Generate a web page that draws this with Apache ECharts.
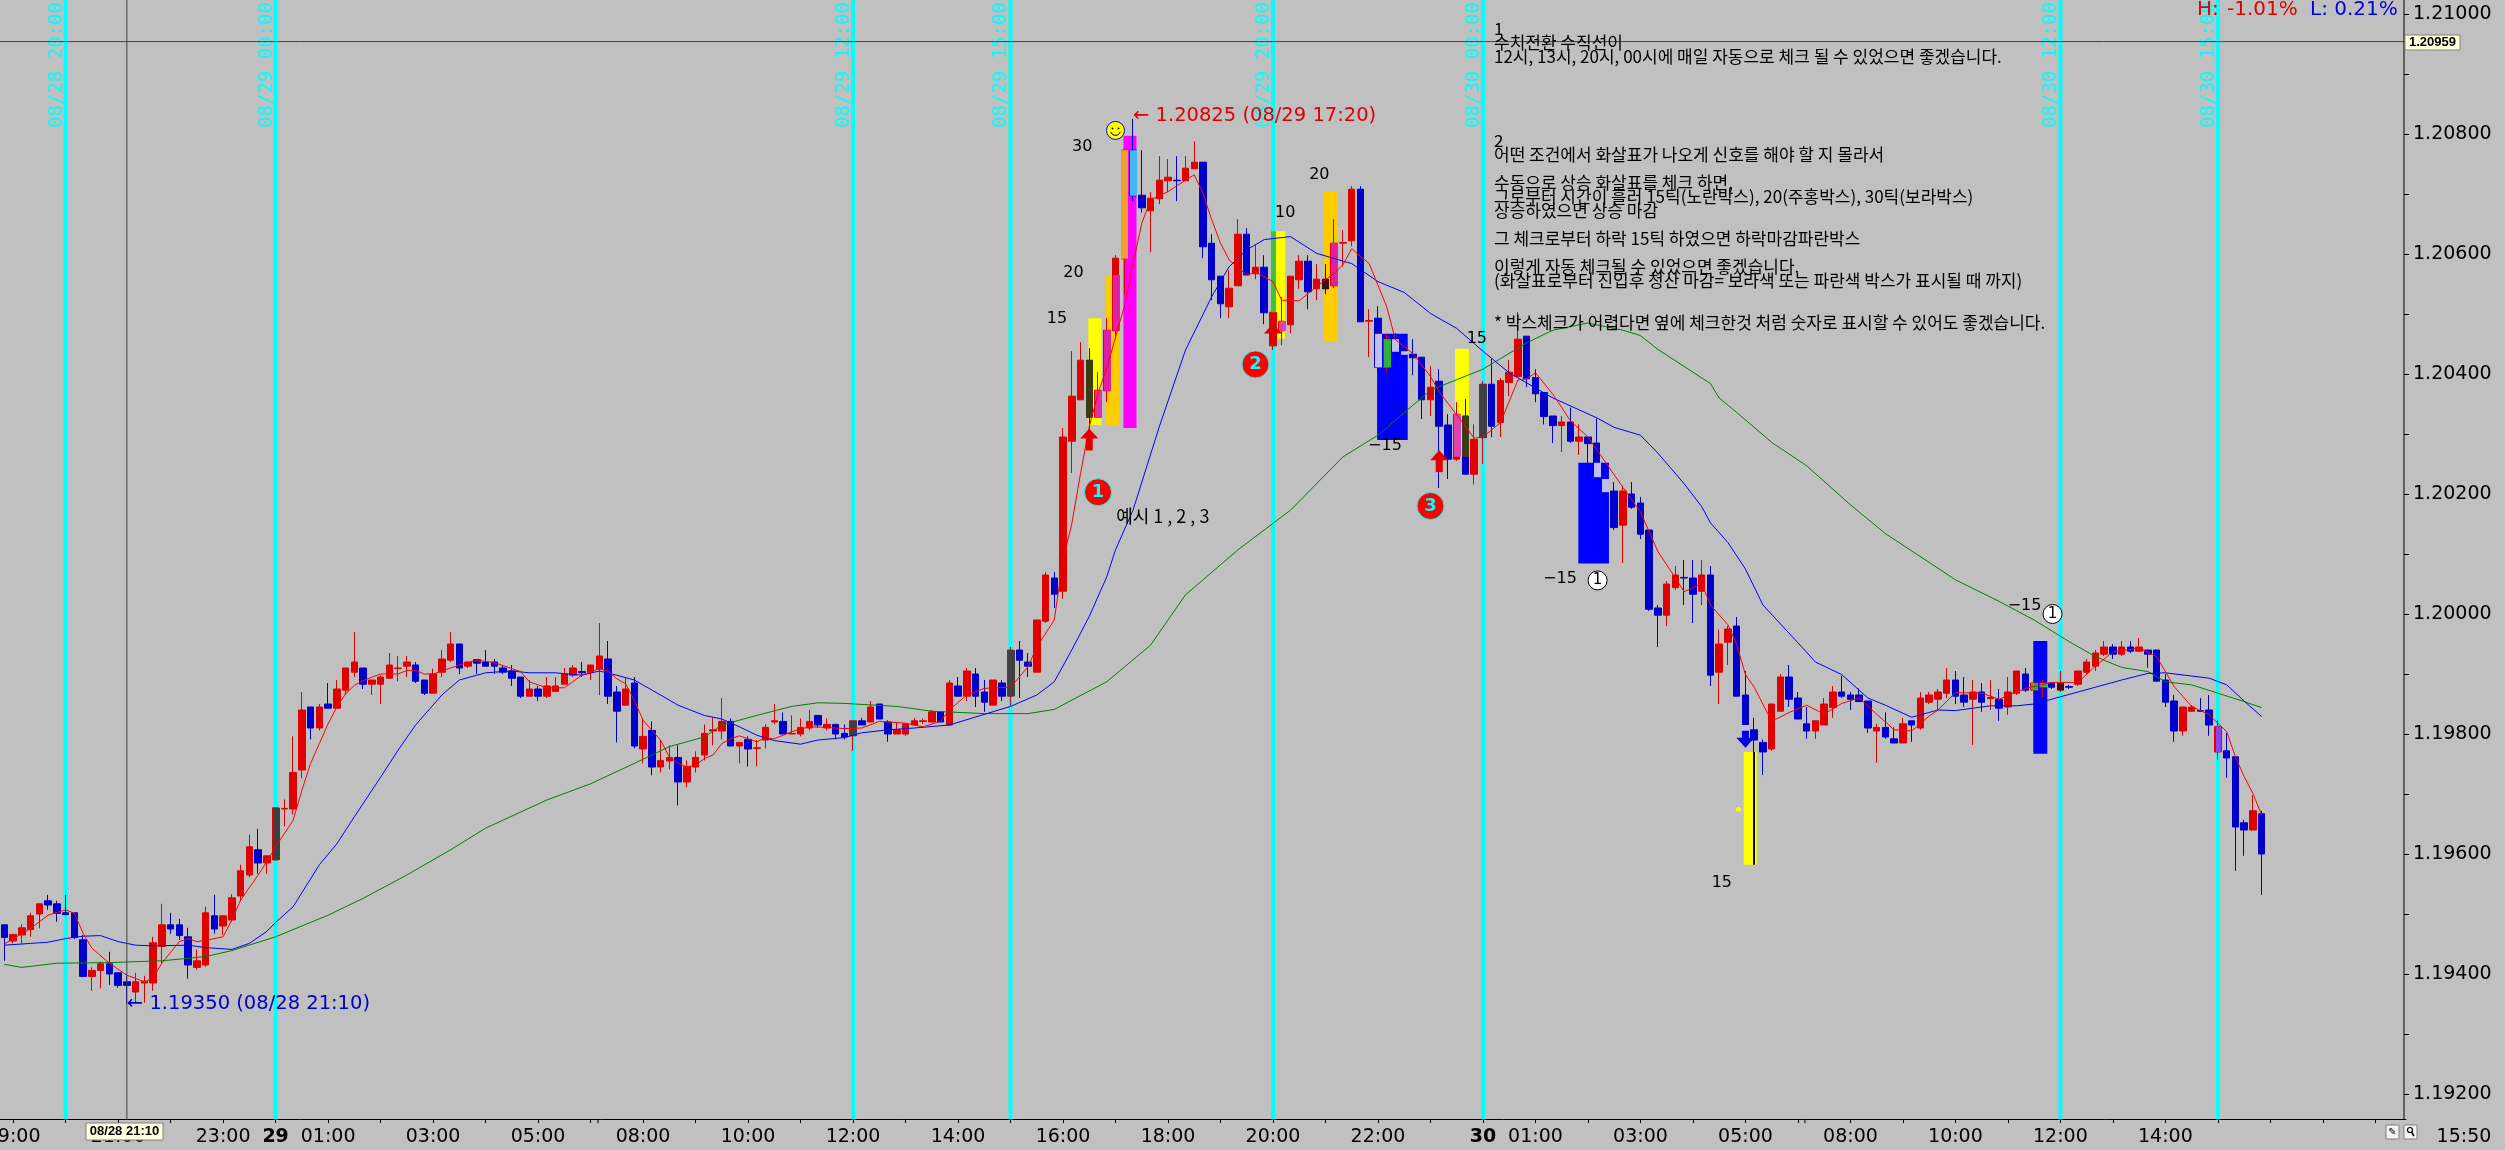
<!DOCTYPE html>
<html><head><meta charset="utf-8">
<script src="https://cdn.jsdelivr.net/npm/echarts@6/dist/echarts.min.js"></script>
<style>html,body{margin:0;padding:0;background:#c0c0c0;overflow:hidden}#c{width:2505px;height:1150px}</style>
</head><body><div id="c"></div>
<script>
// open, close, low, high — 10 minute bars
const candlesAug28 = [
[1.19482,1.19461,1.19422,1.19482],[1.19455,1.19466,1.19451,1.19466],[1.19465,1.19477,1.19451,1.19483],[1.19474,1.19497,1.19462,1.19502],
[1.19500,1.19517,1.19476,1.19517],[1.19522,1.19515,1.19507,1.19532],[1.19517,1.19501,1.19487,1.19522],[1.19502,1.19499,1.19498,1.19532],
[1.19502,1.19461,1.19458,1.19502],[1.19457,1.19396,1.19396,1.19465],[1.19396,1.19406,1.19372,1.19411],[1.19406,1.19417,1.19376,1.19421],
[1.19417,1.19400,1.19382,1.19437],[1.19402,1.19381,1.19377,1.19402],[1.19387,1.19381,1.19350,1.19396],[1.19370,1.19387,1.19352,1.19402],
[1.19385,1.19388,1.19352,1.19397],[1.19385,1.19452,1.19372,1.19462],[1.19446,1.19482,1.19418,1.19517],[1.19482,1.19475,1.19467,1.19502],
[1.19482,1.19464,1.19457,1.19492],[1.19462,1.19415,1.19392,1.19477],[1.19411,1.19422,1.19407,1.19441],[1.19415,1.19502,1.19412,1.19512],
[1.19497,1.19475,1.19467,1.19532],[1.19480,1.19497,1.19465,1.19498],[1.19490,1.19527,1.19487,1.19533],[1.19530,1.19572,1.19522,1.19582],
[1.19565,1.19612,1.19561,1.19632],[1.19607,1.19585,1.19567,1.19642],[1.19585,1.19597,1.19567,1.19597]
];
const candlesAug29 = [
[1.19590,1.19677,1.19590,1.19677],[1.19675,1.19676,1.19646,1.19691],[1.19675,1.19736,1.19666,1.19796],[1.19740,1.19840,1.19726,1.19870],
[1.19845,1.19810,1.19791,1.19845],[1.19810,1.19845,1.19806,1.19850],[1.19850,1.19843,1.19843,1.19885],[1.19843,1.19875,1.19843,1.19890],
[1.19873,1.19910,1.19865,1.19910],[1.19903,1.19920,1.19895,1.19970],[1.19910,1.19883,1.19875,1.19910],[1.19883,1.19890,1.19865,1.19890],
[1.19883,1.19895,1.19850,1.19898],[1.19893,1.19915,1.19893,1.19935],[1.19909,1.19910,1.19888,1.19930],[1.19913,1.19920,1.19895,1.19930],
[1.19915,1.19888,1.19885,1.19920],[1.19890,1.19868,1.19865,1.19890],[1.19868,1.19900,1.19868,1.19909],[1.19903,1.19925,1.19895,1.19940],
[1.19923,1.19950,1.19920,1.19970],[1.19950,1.19910,1.19900,1.19950],[1.19913,1.19920,1.19910,1.19921],[1.19924,1.19918,1.19900,1.19924],
[1.19920,1.19913,1.19913,1.19940],[1.19920,1.19913,1.19900,1.19925],[1.19910,1.19903,1.19900,1.19915],[1.19905,1.19893,1.19880,1.19915],
[1.19895,1.19863,1.19860,1.19895],[1.19863,1.19875,1.19863,1.19890],[1.19875,1.19863,1.19855,1.19880],[1.19863,1.19880,1.19860,1.19895],
[1.19871,1.19880,1.19871,1.19895],[1.19883,1.19900,1.19883,1.19910],[1.19898,1.19910,1.19895,1.19915],[1.19904,1.19902,1.19895,1.19920],
[1.19903,1.19915,1.19890,1.19915],[1.19908,1.19930,1.19865,1.19985],[1.19925,1.19863,1.19850,1.19955],[1.19870,1.19838,1.19786,1.19880],
[1.19848,1.19875,1.19848,1.19893],[1.19885,1.19780,1.19776,1.19895],[1.19775,1.19796,1.19751,1.19826],[1.19806,1.19745,1.19731,1.19821],
[1.19745,1.19756,1.19736,1.19790],[1.19755,1.19761,1.19741,1.19781],[1.19761,1.19720,1.19681,1.19781],[1.19720,1.19746,1.19711,1.19756],
[1.19745,1.19761,1.19736,1.19771],[1.19765,1.19801,1.19756,1.19816],[1.19805,1.19807,1.19781,1.19828],[1.19805,1.19821,1.19791,1.19860],
[1.19821,1.19780,1.19780,1.19826],[1.19780,1.19786,1.19751,1.19786],[1.19791,1.19775,1.19746,1.19796],[1.19776,1.19777,1.19746,1.19790],
[1.19790,1.19811,1.19776,1.19816],[1.19820,1.19822,1.19816,1.19850],[1.19821,1.19800,1.19800,1.19836],[1.19800,1.19801,1.19800,1.19831],
[1.19800,1.19811,1.19796,1.19826],[1.19810,1.19821,1.19806,1.19840],[1.19831,1.19815,1.19811,1.19831],[1.19810,1.19816,1.19806,1.19826],
[1.19816,1.19800,1.19791,1.19816],[1.19801,1.19795,1.19791,1.19816],[1.19797,1.19822,1.19772,1.19822],[1.19822,1.19815,1.19815,1.19827],
[1.19820,1.19845,1.19820,1.19855],[1.19850,1.19825,1.19825,1.19850],[1.19820,1.19800,1.19787,1.19823],[1.19800,1.19807,1.19800,1.19820],
[1.19800,1.19817,1.19797,1.19818],[1.19815,1.19822,1.19815,1.19827],[1.19821,1.19822,1.19817,1.19826],[1.19820,1.19837,1.19820,1.19840],
[1.19837,1.19820,1.19820,1.19837],[1.19815,1.19885,1.19815,1.19890],[1.19880,1.19863,1.19863,1.19895],[1.19863,1.19905,1.19855,1.19910],
[1.19900,1.19863,1.19845,1.19910],[1.19870,1.19853,1.19837,1.19890],[1.19848,1.19890,1.19848,1.19890],[1.19885,1.19863,1.19855,1.19890],
[1.19863,1.19940,1.19847,1.19945],[1.19940,1.19923,1.19860,1.19955],[1.19920,1.19913,1.19895,1.19935],[1.19903,1.19990,1.19903,1.19990],
[1.19988,1.20065,1.19985,1.20070],[1.20060,1.20033,1.20010,1.20070],[1.20038,1.20295,1.20025,1.20310],[1.20288,1.20363,1.20235,1.20438],
[1.20357,1.20423,1.20357,1.20453],[1.20423,1.20328,1.20309,1.20443],[1.20328,1.20373,1.20328,1.20403],[1.20372,1.20473,1.20353,1.20493],
[1.20472,1.20593,1.20458,1.20598],[1.20592,1.20773,1.20533,1.20773],[1.20773,1.20697,1.20688,1.20825],[1.20698,1.20677,1.20669,1.20773],
[1.20672,1.20693,1.20603,1.20703],[1.20692,1.20723,1.20683,1.20763],[1.20722,1.20728,1.20704,1.20758],[1.20723,1.20722,1.20688,1.20763],
[1.20722,1.20743,1.20722,1.20763],[1.20742,1.20753,1.20742,1.20788],[1.20753,1.20612,1.20593,1.20753],[1.20618,1.20557,1.20523,1.20633],
[1.20563,1.20517,1.20493,1.20563],[1.20512,1.20543,1.20493,1.20573],[1.20547,1.20633,1.20547,1.20658],[1.20633,1.20565,1.20565,1.20643],
[1.20567,1.20578,1.20558,1.20615],[1.20578,1.20502,1.20483,1.20598],[1.20447,1.20503,1.20440,1.20507],[1.20472,1.20488,1.20448,1.20528],
[1.20482,1.20563,1.20468,1.20563],[1.20557,1.20588,1.20542,1.20598],[1.20588,1.20537,1.20508,1.20598],[1.20542,1.20558,1.20523,1.20583],
[1.20558,1.20542,1.20533,1.20583],[1.20547,1.20618,1.20543,1.20658],[1.20618,1.20619,1.20579,1.20640],[1.20622,1.20708,1.20613,1.20713],
[1.20708,1.20487,1.20487,1.20713],[1.20488,1.20489,1.20428,1.20508],[1.20493,1.20411,1.20403,1.20513],[1.20411,1.20458,1.20403,1.20467],
[1.20458,1.20437,1.20388,1.20468],[1.20438,1.20432,1.20408,1.20458],[1.20433,1.20427,1.20398,1.20458],[1.20428,1.20357,1.20325,1.20428],
[1.20357,1.20378,1.20330,1.20413],[1.20388,1.20313,1.20210,1.20408],[1.20315,1.20258,1.20225,1.20333],[1.20258,1.20333,1.20255,1.20353],
[1.20330,1.20233,1.20233,1.20358],[1.20233,1.20291,1.20216,1.20316]
];
const candlesAug30 = [
[1.20294,1.20383,1.20250,1.20388],[1.20383,1.20313,1.20295,1.20425],[1.20319,1.20389,1.20295,1.20393],[1.20386,1.20403,1.20363,1.20423],
[1.20396,1.20458,1.20396,1.20503],[1.20463,1.20392,1.20378,1.20463],[1.20394,1.20367,1.20353,1.20408],[1.20369,1.20329,1.20316,1.20369],
[1.20330,1.20314,1.20285,1.20330],[1.20314,1.20320,1.20270,1.20330],[1.20320,1.20288,1.20285,1.20344],[1.20288,1.20295,1.20265,1.20316],
[1.20295,1.20284,1.20225,1.20295],[1.20285,1.20228,1.20220,1.20326],[1.20225,1.20203,1.20165,1.20240],[1.20205,1.20144,1.20140,1.20220],
[1.20148,1.20205,1.20085,1.20214],[1.20200,1.20178,1.20175,1.20220],[1.20185,1.20133,1.20125,1.20195],[1.20140,1.20008,1.20005,1.20140],
[1.20010,1.19998,1.19945,1.20015],[1.19998,1.20050,1.19980,1.20055],[1.20044,1.20065,1.20040,1.20080],[1.20061,1.20060,1.20015,1.20090],
[1.20060,1.20033,1.19985,1.20090],[1.20038,1.20065,1.20015,1.20090],[1.20065,1.19898,1.19880,1.20080],[1.19903,1.19950,1.19850,1.19974],
[1.19953,1.19975,1.19915,1.19980],[1.19980,1.19863,1.19863,1.19995],[1.19865,1.19805,1.19805,1.19905],[1.19807,1.19790,1.19582,1.19827],
[1.19786,1.19770,1.19732,1.19791],[1.19775,1.19850,1.19772,1.19850],[1.19838,1.19895,1.19838,1.19900],[1.19895,1.19858,1.19845,1.19915],
[1.19860,1.19825,1.19825,1.19870],[1.19817,1.19805,1.19792,1.19845],[1.19805,1.19822,1.19792,1.19822],[1.19815,1.19850,1.19815,1.19860],
[1.19844,1.19870,1.19827,1.19880],[1.19870,1.19863,1.19860,1.19897],[1.19865,1.19858,1.19840,1.19870],[1.19865,1.19854,1.19854,1.19876],
[1.19855,1.19810,1.19802,1.19855],[1.19805,1.19811,1.19752,1.19817],[1.19811,1.19795,1.19792,1.19836],[1.19792,1.19785,1.19785,1.19811],
[1.19785,1.19817,1.19785,1.19827],[1.19822,1.19815,1.19787,1.19822],[1.19810,1.19860,1.19807,1.19870],[1.19853,1.19865,1.19850,1.19870],
[1.19858,1.19870,1.19838,1.19875],[1.19868,1.19890,1.19860,1.19910],[1.19890,1.19863,1.19850,1.19905],[1.19865,1.19853,1.19845,1.19895],
[1.19858,1.19870,1.19782,1.19890],[1.19870,1.19853,1.19837,1.19885],[1.19859,1.19861,1.19840,1.19890],[1.19858,1.19843,1.19822,1.19875],
[1.19845,1.19870,1.19832,1.19895],[1.19868,1.19905,1.19865,1.19905],[1.19900,1.19873,1.19870,1.19910],[1.19873,1.19885,1.19865,1.19890],
[1.19878,1.19885,1.19860,1.19890],[1.19885,1.19878,1.19875,1.19885],[1.19873,1.19885,1.19870,1.19905],[1.19879,1.19878,1.19875,1.19882],
[1.19883,1.19905,1.19880,1.19905],[1.19903,1.19920,1.19900,1.19925],[1.19913,1.19935,1.19905,1.19940],[1.19933,1.19945,1.19930,1.19955],
[1.19945,1.19933,1.19925,1.19950],[1.19933,1.19945,1.19930,1.19955],[1.19945,1.19938,1.19935,1.19955],[1.19938,1.19945,1.19938,1.19960],
[1.19940,1.19933,1.19910,1.19940],[1.19940,1.19888,1.19888,1.19940],[1.19890,1.19853,1.19845,1.19900],[1.19855,1.19805,1.19787,1.19865],
[1.19805,1.19845,1.19797,1.19845],[1.19838,1.19845,1.19837,1.19848],[1.19839,1.19838,1.19837,1.19860],[1.19840,1.19815,1.19797,1.19865],
[1.19770,1.19812,1.19757,1.19823],[1.19772,1.19760,1.19727,1.19802],[1.19762,1.19645,1.19572,1.19762],[1.19652,1.19640,1.19597,1.19657],
[1.19640,1.19672,1.19640,1.19698],[1.19667,1.19600,1.19532,1.19672]
];
const candles = candlesAug28.concat(candlesAug29, candlesAug30);

// moving averages read at [bar index, price]
const maRed = [[0,1.19450],[3,1.19476],[5,1.19498],[7,1.19507],[8,1.19501],[9,1.19468],[10,1.19443],[12,1.19418],[14,1.19398],[16,1.19387],[17,1.19393],[18,1.19418],[20,1.19454],[21,1.19459],[22,1.19454],[23,1.19456],[25,1.19462],[26,1.19490],[27,1.19523],[29,1.19565],[30,1.19587],[31,1.19612],[33,1.19656],[34,1.19706],[35,1.19751],[36,1.19784],[37,1.19817],[38,1.19845],[39,1.19867],[40,1.19881],[41,1.19889],[43,1.19900],[45,1.19900],[46,1.19906],[47,1.19906],[48,1.19900],[49,1.19900],[50,1.19905],[52,1.19915],[54,1.19923],[56,1.19919],[58,1.19909],[59,1.19904],[60,1.19887],[62,1.19877],[64,1.19877],[66,1.19898],[68,1.19909],[69,1.19905],[70,1.19892],[71,1.19884],[72,1.19856],[73,1.19823],[74,1.19806],[75,1.19790],[76,1.19762],[77,1.19751],[78,1.19745],[79,1.19748],[80,1.19759],[81,1.19765],[82,1.19784],[83,1.19792],[84,1.19797],[85,1.19792],[86,1.19787],[87,1.19794],[88,1.19792],[90,1.19804],[92,1.19812],[94,1.19811],[96,1.19809],[98,1.19810],[100,1.19821],[103,1.19818],[105,1.19812],[107,1.19821],[108,1.19840],[110,1.19865],[112,1.19876],[115,1.19878],[117,1.19912],[118,1.19945],[120,1.19990],[121,1.20090],[122,1.20150],[123,1.20234],[124,1.20312],[125,1.20368],[126,1.20410],[128,1.20512],[129,1.20584],[130,1.20651],[131,1.20690],[133,1.20704],[135,1.20723],[136,1.20732],[137,1.20701],[138,1.20657],[139,1.20618],[140,1.20590],[142,1.20565],[143,1.20570],[145,1.20554],[146,1.20523],[148,1.20522],[150,1.20546],[152,1.20568],[153,1.20582],[154,1.20609],[155,1.20596],[156,1.20584],[158,1.20512],[159,1.20457],[161,1.20434],[163,1.20396],[164,1.20370],[166,1.20332],[168,1.20293],[169,1.20295],[171,1.20319],[173,1.20390],[174,1.20392],[175,1.20402],[177,1.20366],[179,1.20322],[181,1.20295],[183,1.20253],[185,1.20211],[187,1.20170],[189,1.20104],[191,1.20060],[192,1.20037],[194,1.20051],[195,1.20015],[197,1.19982],[198,1.19949],[199,1.19899],[200,1.19878],[202,1.19821],[204,1.19836],[206,1.19848],[208,1.19833],[210,1.19851],[212,1.19860],[214,1.19833],[216,1.19807],[218,1.19805],[220,1.19830],[221,1.19840],[223,1.19869],[226,1.19868],[228,1.19858],[231,1.19876],[234,1.19886],[237,1.19886],[239,1.19913],[241,1.19937],[244,1.19943],[246,1.19929],[248,1.19879],[250,1.19846],[252,1.19832],[254,1.19804],[255,1.19762],[256,1.19729],[257,1.19701],[258,1.19665]];
const maBlue = [[0,1.19448],[3,1.19451],[5,1.19453],[7,1.19459],[9,1.19463],[11,1.19464],[13,1.19454],[15,1.19448],[17,1.19447],[21,1.19448],[23,1.19444],[26,1.19441],[28,1.19451],[30,1.19471],[31,1.19486],[33,1.19512],[36,1.19582],[38,1.19617],[40,1.19662],[43,1.19728],[45,1.19773],[47,1.19815],[50,1.19865],[52,1.19890],[55,1.19902],[58,1.19905],[60,1.19902],[63,1.19902],[66,1.19898],[68,1.19905],[70,1.19898],[72,1.19890],[75,1.19865],[77,1.19848],[80,1.19831],[82,1.19825],[84,1.19812],[86,1.19798],[88,1.19789],[91,1.19783],[93,1.19790],[96,1.19794],[98,1.19802],[101,1.19807],[104,1.19810],[108,1.19815],[115,1.19846],[118,1.19865],[120,1.19887],[122,1.19940],[124,1.19996],[126,1.20062],[127,1.20107],[129,1.20173],[132,1.20312],[135,1.20440],[138,1.20529],[140,1.20579],[142,1.20607],[144,1.20624],[147,1.20629],[150,1.20601],[154,1.20584],[157,1.20554],[160,1.20536],[163,1.20501],[166,1.20476],[169,1.20438],[172,1.20402],[177,1.20360],[182,1.20327],[184,1.20311],[187,1.20298],[189,1.20268],[192,1.20217],[194,1.20179],[195,1.20152],[197,1.20119],[199,1.20075],[201,1.20015],[205,1.19952],[207,1.19920],[210,1.19899],[213,1.19860],[215,1.19848],[218,1.19828],[221,1.19840],[223,1.19839],[227,1.19847],[230,1.19847],[232,1.19850],[235,1.19862],[239,1.19878],[242,1.19890],[245,1.19901],[247,1.19902],[252,1.19893],[254,1.19882],[256,1.19855],[258,1.19829]];
const maGreen = [[0,1.19416],[2,1.19411],[6,1.19418],[12,1.19419],[18,1.19422],[23,1.19429],[26,1.19439],[31,1.19462],[37,1.19498],[41,1.19526],[46,1.19565],[51,1.19607],[55,1.19643],[62,1.19690],[67,1.19717],[72,1.19751],[76,1.19779],[80,1.19795],[82,1.19815],[86,1.19831],[90,1.19846],[93,1.19852],[96,1.19851],[102,1.19846],[106,1.19838],[112,1.19834],[117,1.19834],[120,1.19841],[126,1.19887],[131,1.19948],[135,1.20032],[141,1.20107],[147,1.20173],[153,1.20262],[157,1.20298],[163,1.20373],[169,1.20408],[174,1.20452],[177,1.20473],[181,1.20485],[185,1.20473],[187,1.20464],[189,1.20441],[195,1.20384],[196,1.20360],[198,1.20336],[202,1.20286],[206,1.20247],[211,1.20182],[215,1.20134],[220,1.20086],[223,1.20057],[228,1.20021],[232,1.19990],[236,1.19954],[239,1.19929],[242,1.19911],[245,1.19904],[247,1.19887],[250,1.19882],[253,1.19868],[256,1.19854],[258,1.19844]];

// x axis
const tickLabels = {1:'19:00',13:'21:00',25:'23:00',31:'29',37:'01:00',49:'03:00',61:'05:00',73:'08:00',85:'10:00',97:'12:00',109:'14:00',121:'16:00',133:'18:00',145:'20:00',157:'22:00',169:'30',175:'01:00',187:'03:00',199:'05:00',211:'08:00',223:'10:00',235:'12:00',247:'14:00'};
const barCount = 275;
const categories = []; 
(function(){ let h=18,m=50; for(let k=0;k<barCount;k++){ categories.push(String(h).padStart(2,'0')+':'+String(m).padStart(2,'0')); m+=10; if(m==60){m=0;h=(h+1)%24; if(h==6)h=7;} } })();
const extraTicks = [67.85,205.8];

// cyan verticals: bar, label
const verticals = [[7,'08/28 20:00'],[31,'08/29 00:00'],[97,'08/29 12:00'],[115,'08/29 15:00'],[145,'08/29 20:00'],[169,'08/30 00:00'],[235,'08/30 12:00'],[253,'08/30 15:00']];
// [from bar, to bar, top price, bottom price, colour]
const boxes = [
[123.9,125.4,1.20493,1.20315,'#ffff00'],[125.85,127.4,1.20565,1.20314,'#ffcc00'],[127.9,129.4,1.20797,1.20310,'#ff00ff'],
[144.85,146.4,1.20638,1.20459,'#ffff00'],[150.8,152.4,1.20704,1.20454,'#ffcc00'],[156.9,160.4,1.20467,1.20290,'#0000ff'],
[165.8,167.4,1.20442,1.20262,'#ffff00'],[179.9,183.4,1.20252,1.20084,'#0000ff'],[198.8,200.3,1.19770,1.19582,'#ffff00'],
[231.9,233.5,1.19955,1.19767,'#0000ff']];
// recoloured body parts where a candle overlaps a box or a cyan line: [bar, top, bottom, colour, width]
const tints = [
[31,1.19677,1.19590,'#404040',7],[97,1.19822,1.19797,'#404040',7],[115,1.19940,1.19863,'#404040',7],[169,1.20383,1.20294,'#404040',7],
[124,1.20423,1.20328,'#3c3c14',7],[125,1.20373,1.20328,'#e030a8',7],[126,1.20473,1.20372,'#e020a0',7],[127,1.20565,1.20472,'#e020a0',7],
[128,1.20773,1.20592,'#f0a030',7],[129,1.20773,1.20697,'#40b8f0',7],[146,1.20488,1.20472,'#e040b0',7],[145,1.20638,1.20503,'#40c040',5],
[151,1.20558,1.20542,'#401018',7],[152,1.20618,1.20547,'#e020a0',7],[157,1.20467,1.20411,'#c0c0f0',7],[158,1.20458,1.20411,'#30b040',7],
[159,1.20458,1.20437,'#c0c0f0',7],[160,1.20438,1.20432,'#c0c0f0',7],[166,1.20333,1.20262,'#e040b0',7],[167,1.20330,1.20262,'#3c3c14',7],
[182,1.20252,1.20228,'#c0c0f0',7],[183,1.20225,1.20203,'#c0c0f0',7],[199,1.19815,1.19805,'#c0c0f0',7],[232,1.19885,1.19873,'#30b040',7],
[233,1.19885,1.19878,'#30b040',7],[235,1.19885,1.19873,'#401018',7],[253,1.19812,1.19770,'#9040f0',5],[200,1.19770,1.19582,'#000000',1]];
// [bar, tip price, direction, colour]
const arrows = [[124,1.20309,1,'#e00000'],[145,1.20484,1,'#e00000'],[164,1.20273,1,'#e00000'],[199,1.19777,-1,'#0000e0']];
// [bar, price, digit]
const redBadges = [[125,1.20203,'1'],[143,1.20416,'2'],[163,1.20180,'3']];
const whiteBadges = [[182.1,1.20056,'1'],[234.1,1.20000,'1']];
// [bar, price, text]
const notes = [[123.2,1.20779,'30'],[122.2,1.20569,'20'],[120.3,1.20492,'15'],[146.4,1.20669,'10'],[150.3,1.20732,'20'],[157.8,1.20280,'\u221215'],[168.3,1.20458,'15'],[177.8,1.20059,'\u221215'],[230.9,1.20013,'\u221215'],[196.3,1.19552,'15']];
const exampleNote = [132.4,1.20163,'예시 1 , 2 , 3'];
const smiley = [127,1.20806];
const yellowDot = [198.2,1.19674];
const extremes = [[129,1.20830,'← 1.20825 (08/29 17:20)','#e00000'],[14,1.19350,'← 1.19350 (08/28 21:10)','#0000cc']];
const crossBar = 14, crossPrice = 1.20954;
const crossPriceLabel = '1.20959', crossTimeLabel = '08/28 21:10';
const lastTimeLabel = '15:50';
const yMin = 1.19, yMax = 1.212, plotBottom = 1.19158, axisBar = 274.27;
const commentLines = ['1','수치전환 수직선이','12시, 13시, 20시, 00시에 매일 자동으로 체크 될 수 있었으면 좋겠습니다.','','','','','','2','어떤 조건에서 화살표가 나오게 신호를 해야 할 지 몰라서','','수동으로 상승 화살표를 체크 하면,','그로부터 시간이 흘러 15틱(노란박스), 20(주홍박스), 30틱(보라박스)','상승하였으면 상승 마감','','그 체크로부터 하락 15틱 하였으면 하락마감파란박스','','이렇게 자동 체크될 수 있었으면 좋겠습니다.','(화살표로부터 진입후 청산 마감= 보라색 또는 파란색 박스가 표시될 때 까지)','','','* 박스체크가 어렵다면 옆에 체크한것 처럼 숫자로 표시할 수 있어도 좋겠습니다.'];

const dv = '"DejaVu Sans"', kr = '"Noto Sans CJK KR"';
const chart = echarts.init(document.getElementById('c'));
function overlay(name, z, rows, render){
  return {type:'custom', name, z, xAxisIndex:1, yAxisIndex:0, clip:false, silent:true, data:rows.map((r,i)=>[i,0]), encode:{x:0,y:1}, tooltip:{show:false},
    renderItem:(p,api)=>render(rows[p.dataIndex],api)};
}
const line = (a,b,stroke,w) => ({type:'line',shape:{x1:a[0],y1:a[1],x2:b[0],y2:b[1]},style:{stroke,lineWidth:w}});
const label = (pt,text,fill,font,extra) => ({type:'text',x:pt[0],y:pt[1],...(extra||{}),style:{text,fill,font,align:(extra&&extra.align)||'center',verticalAlign:'middle'}});

const option = {
  animation:false, backgroundColor:'#c0c0c0',
  grid:{left:0, width:2406, top:-106, height:1320, containLabel:false, outerBoundsMode:'none'},
  xAxis:[
    {type:'category', data:categories, boundaryGap:true, offset:-95, position:'bottom',
     axisLine:{show:true,onZero:false,lineStyle:{color:'#000',width:1}},
     axisTick:{show:true,alignWithLabel:true,length:4,interval:i=>(i-1)%6===0,lineStyle:{color:'#000'}},
     axisLabel:{show:true,interval:i=>tickLabels[i]!==undefined,margin:9,color:'#000',fontFamily:'DejaVu Sans',fontSize:19,
       formatter:(v,i)=>{const t=tickLabels[i];return t&&t.length===2?'{b|'+t+'}':(t||'');},
       rich:{b:{fontFamily:'DejaVu Sans',fontSize:19,fontWeight:'bold',color:'#000'}}},
     splitLine:{show:false}},
    {type:'value', min:-0.5, max:barCount-0.5, show:false, splitLine:{show:false}}
  ],
  yAxis:[{type:'value', min:yMin, max:yMax, interval:0.001, position:'right', offset:-2, scale:true,
     axisLine:{show:false,onZero:false}, axisTick:{show:true,length:5,lineStyle:{color:'#000'}},
     axisLabel:{show:true,margin:9,color:'#000',fontFamily:'DejaVu Sans',fontSize:19,
       formatter:v=>Math.round(v*1000)%2===0?v.toFixed(5):''},
     splitLine:{show:false}}],
  series:[
    overlay('verticals',1,verticals,(r,api)=>{const a=api.coord([r[0],plotBottom]),b=api.coord([r[0],yMax]);const t=api.coord([r[0]-1.03,1.20915]);
      return {type:'group',children:[line(a,b,'#00ffff',4),label(t,r[1],'#00ffff','19px "DejaVu Sans Mono"',{rotation:Math.PI/2})]};}),
    overlay('boxes',2,boxes,(r,api)=>{const a=api.coord([r[0],r[2]]),b=api.coord([r[1],r[3]]);
      return {type:'rect',shape:{x:a[0],y:a[1],width:b[0]-a[0],height:b[1]-a[1]},style:{fill:r[4]}};}),
    {type:'candlestick', name:'price', z:3, xAxisIndex:0, yAxisIndex:0, data:candles, barWidth:7, silent:true,
     itemStyle:{color:'#e00000',color0:'#0000cc',borderColor:'#e00000',borderColor0:'#0000cc',borderWidth:1}},
    overlay('tints',4,tints,(r,api)=>{const a=api.coord([r[0],r[1]]),b=api.coord([r[0],r[2]]);
      return {type:'rect',shape:{x:Math.round(a[0])-Math.floor(r[4]/2),y:a[1],width:r[4],height:b[1]-a[1]},style:{fill:r[3]}};}),
    {type:'line',name:'green',z:5,xAxisIndex:0,yAxisIndex:0,data:maGreen,showSymbol:false,symbol:'none',silent:true,lineStyle:{color:'#008000',width:1}},
    {type:'line',name:'blue',z:5,xAxisIndex:0,yAxisIndex:0,data:maBlue,showSymbol:false,symbol:'none',silent:true,lineStyle:{color:'#0000ff',width:1}},
    {type:'line',name:'red',z:5,xAxisIndex:0,yAxisIndex:0,data:maRed,showSymbol:false,symbol:'none',silent:true,lineStyle:{color:'#ff0000',width:1}},
    overlay('arrows',6,arrows,(r,api)=>{const c=api.coord([r[0],r[1]]),d=r[2],hw=9,hh=10,sw=3.5,tot=d>0?22:17;
      const pts=[[0,0],[hw,d*hh],[sw,d*hh],[sw,d*tot],[-sw,d*tot],[-sw,d*hh],[-hw,d*hh]].map(q=>[c[0]+q[0],c[1]+q[1]]);
      return {type:'polygon',shape:{points:pts},style:{fill:r[3]}};}),
    overlay('redBadges',6,redBadges,(r,api)=>{const c=api.coord([r[0],r[1]]);
      return {type:'group',children:[{type:'circle',shape:{cx:c[0],cy:c[1],r:13.5},style:{fill:'#ff0000',stroke:'#00ffff',lineWidth:1}},label(c,r[2],'#00ffff','bold 18px '+dv)]};}),
    overlay('whiteBadges',6,whiteBadges,(r,api)=>{const c=api.coord([r[0],r[1]]);
      return {type:'group',children:[{type:'circle',shape:{cx:c[0],cy:c[1],r:9.5},style:{fill:'#ffffff',stroke:'#000000',lineWidth:1}},label(c,r[2],'#000','15px '+dv)]};}),
    overlay('notes',6,notes,(r,api)=>label(api.coord([r[0],r[1]]),r[2],'#000','16px '+dv)),
    overlay('example',6,[exampleNote],(r,api)=>label(api.coord([r[0],r[1]]),r[2],'#000','18px '+kr)),
    overlay('extremes',6,extremes,(r,api)=>{const c=api.coord([r[0],r[1]]);return label(c,r[2],r[3],'19.5px '+dv,{align:'left'});}),
    overlay('smiley',6,[smiley],(r,api)=>{const c=api.coord(r);
      return {type:'group',children:[
        {type:'circle',shape:{cx:c[0],cy:c[1],r:9},style:{fill:'#ffff00',stroke:'#0000ff',lineWidth:1}},
        {type:'circle',shape:{cx:c[0]-3,cy:c[1]-2,r:0.9},style:{fill:'#000'}},
        {type:'circle',shape:{cx:c[0]+3,cy:c[1]-2,r:0.9},style:{fill:'#000'}},
        {type:'arc',shape:{cx:c[0],cy:c[1],r:5,startAngle:0.3,endAngle:Math.PI-0.3},style:{stroke:'#000',lineWidth:1,fill:null}}]};}),
    overlay('yellowDot',6,[yellowDot],(r,api)=>{const c=api.coord(r);return {type:'circle',shape:{cx:c[0],cy:c[1],r:2.5},style:{fill:'#ffff00'}};}),
    overlay('cross',7,[[crossBar,crossPrice]],(r,api)=>({type:'group',children:[
      line(api.coord([r[0],plotBottom]),api.coord([r[0],yMax]),'#404040',1),
      line(api.coord([-0.5,r[1]]),api.coord([axisBar,r[1]]),'#404040',1),
      line(api.coord([axisBar,plotBottom]),api.coord([axisBar,yMax]),'#000000',1)]})),
    overlay('extraTicks',7,extraTicks.map(v=>[v]),(r,api)=>{const a=api.coord([r[0],plotBottom]);return line(a,[a[0],a[1]+4],'#000',1);})
  ],
  graphic:[
    {type:'text',z:20,x:1494,y:22,silent:true,style:{text:commentLines.join('\n'),font:'17px '+kr,fill:'#000',lineHeight:14,align:'left',verticalAlign:'top'}},
    {type:'text',z:20,x:2197,y:10,silent:true,style:{text:'H:',font:'20px '+dv,fill:'#e00000',verticalAlign:'middle'}},
    {type:'text',z:20,x:2227,y:10,silent:true,style:{text:'-1.01%',font:'20px '+dv,fill:'#e00000',verticalAlign:'middle'}},
    {type:'text',z:20,x:2310,y:10,silent:true,style:{text:'L: 0.21%',font:'20px '+dv,fill:'#0000e0',verticalAlign:'middle'}},
    {type:'rect',z:20,shape:{x:2405,y:35,width:55,height:15},silent:true,style:{fill:'#ffffe0',stroke:'#808080',lineWidth:1}},
    {type:'text',z:21,x:2432.5,y:42.5,silent:true,style:{text:crossPriceLabel,font:'bold 13px "Liberation Sans"',fill:'#000',align:'center',verticalAlign:'middle'}},
    {type:'rect',z:20,shape:{x:86,y:1123,width:77,height:17},silent:true,style:{fill:'#ffffe0',stroke:'#808080',lineWidth:1}},
    {type:'text',z:21,x:124.5,y:1131.5,silent:true,style:{text:crossTimeLabel,font:'bold 13px "Liberation Sans"',fill:'#000',align:'center',verticalAlign:'middle'}},
    {type:'text',z:20,x:2464,y:1137,silent:true,style:{text:lastTimeLabel,font:'19px '+dv,fill:'#000',align:'center',verticalAlign:'middle'}},
    {type:'rect',z:20,shape:{x:2386,y:1125,width:13,height:14},silent:true,style:{fill:'#f4f4f4',stroke:'#808080',lineWidth:1}},
    {type:'text',z:21,x:2392.5,y:1132,silent:true,style:{text:'✎',font:'10px '+dv,fill:'#000',align:'center',verticalAlign:'middle'}},
    {type:'rect',z:20,shape:{x:2404,y:1125,width:13,height:14},silent:true,style:{fill:'#f4f4f4',stroke:'#808080',lineWidth:1}},
    {type:'circle',z:21,shape:{cx:2410,cy:1130,r:2.5},silent:true,style:{fill:'none',stroke:'#000',lineWidth:1.2}},
    {type:'line',z:21,shape:{x1:2411.5,y1:1132,x2:2414,y2:1136},silent:true,style:{stroke:'#000',lineWidth:1.5}}
  ]
};
chart.setOption(option);
</script></body></html>
